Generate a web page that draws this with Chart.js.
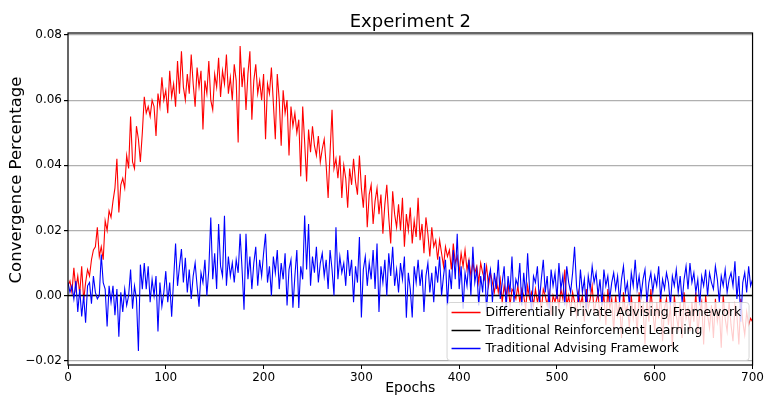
<!DOCTYPE html>
<html>
<head>
<meta charset="utf-8">
<script src="https://cdn.jsdelivr.net/npm/chart.js@4"></script>
<style>
  html, body { margin: 0; padding: 0; background: #fff; }
</style>
</head>
<body>
<canvas id="chart" width="766" height="397"></canvas>
<script>
// x positions: one sample every 2 epochs
const epochs = Array.from({ length: 351 }, (_, i) => i * 2);
const xTicks = [0, 100, 200, 300, 400, 500, 600, 700];
const yTicks = [-0.02, 0, 0.02, 0.04, 0.06, 0.08];

const seriesNames = [
  'Differentially Private Advising Framework',
  'Traditional Reinforcement Learning',
  'Traditional Advising Framework'
];

// Differentially Private Advising Framework (red)
const privateAdvising = [
  0.0030, 0.0045, 0.0010, 0.0085, 0.0020, 0.0060, 0.0005, 0.0090, -0.0015, 0.0040,
  0.0080, 0.0060, 0.0110, 0.0140, 0.0150, 0.0210, 0.0120, 0.0150, 0.0110, 0.0230,
  0.0200, 0.0260, 0.0240, 0.0290, 0.0330, 0.0420, 0.0255, 0.0340, 0.0360, 0.0330,
  0.0430, 0.0390, 0.0550, 0.0410, 0.0390, 0.0520, 0.0480, 0.0410, 0.0500, 0.0610,
  0.0560, 0.0580, 0.0550, 0.0600, 0.0580, 0.0490, 0.0620, 0.0580, 0.0670, 0.0600,
  0.0630, 0.0560, 0.0690, 0.0610, 0.0650, 0.0580, 0.0720, 0.0620, 0.0750, 0.0640,
  0.0600, 0.0680, 0.0620, 0.0740, 0.0650, 0.0580, 0.0700, 0.0640, 0.0690, 0.0510,
  0.0660, 0.0620, 0.0720, 0.0600, 0.0570, 0.0680, 0.0640, 0.0730, 0.0610, 0.0690,
  0.0650, 0.0740, 0.0620, 0.0670, 0.0600, 0.0710, 0.0660, 0.0470, 0.0766, 0.0640,
  0.0700, 0.0570, 0.0680, 0.0750, 0.0540, 0.0660, 0.0710, 0.0620, 0.0660, 0.0600,
  0.0680, 0.0480, 0.0650, 0.0620, 0.0700, 0.0590, 0.0480, 0.0680, 0.0600, 0.0460,
  0.0630, 0.0560, 0.0600, 0.0430, 0.0580, 0.0520, 0.0560, 0.0500, 0.0540, 0.0366,
  0.0580, 0.0470, 0.0350, 0.0510, 0.0440, 0.0520, 0.0460, 0.0430, 0.0490, 0.0410,
  0.0450, 0.0480, 0.0400, 0.0300, 0.0440, 0.0570, 0.0390, 0.0420, 0.0360, 0.0430,
  0.0300, 0.0400, 0.0360, 0.0270, 0.0390, 0.0340, 0.0420, 0.0350, 0.0310, 0.0430,
  0.0330, 0.0270, 0.0370, 0.0210, 0.0310, 0.0340, 0.0220, 0.0290, 0.0330, 0.0250,
  0.0310, 0.0190, 0.0280, 0.0340, 0.0240, 0.0160, 0.0320, 0.0250, 0.0210, 0.0280,
  0.0200, 0.0300, 0.0150, 0.0250, 0.0200, 0.0270, 0.0160, 0.0230, 0.0180, 0.0300,
  0.0170, 0.0220, 0.0130, 0.0240, 0.0190, 0.0120, 0.0210, 0.0150, 0.0170, 0.0110,
  0.0170, 0.0130, 0.0090, 0.0150, 0.0120, 0.0140, 0.0080, 0.0160, 0.0100, 0.0120,
  0.0070, 0.0130, 0.0090, 0.0140, 0.0080, 0.0110, 0.0060, 0.0100, 0.0070, 0.0090,
  0.0040, 0.0100, 0.0070, 0.0050, 0.0090, 0.0030, 0.0070, 0.0040, 0.0010, 0.0050,
  0.0010, 0.0050, -0.0020, 0.0030, 0.0000, 0.0040, -0.0030, 0.0020, 0.0010, -0.0010,
  0.0030, -0.0020, 0.0020, 0.0000, -0.0040, 0.0030, -0.0010, 0.0010, -0.0030, 0.0020,
  -0.0020, 0.0010, -0.0050, 0.0020, 0.0000, -0.0030, 0.0010, -0.0060, 0.0000, -0.0020,
  0.0010, -0.0040, 0.0020, -0.0010, 0.0080, -0.0030, 0.0000, -0.0050, 0.0010, -0.0020,
  -0.0060, 0.0010, -0.0030, 0.0000, -0.0080, 0.0020, -0.0040, -0.0010, 0.0030, -0.0050,
  -0.0020, 0.0010, -0.0070, -0.0030, 0.0000, -0.0090, 0.0020, -0.0040, -0.0010, -0.0110,
  0.0000, -0.0060, -0.0020, -0.0130, 0.0010, -0.0050, -0.0030, -0.0100, 0.0000, -0.0070,
  -0.0020, -0.0120, 0.0010, -0.0060, -0.0030, -0.0150, -0.0010, -0.0080, 0.0020, -0.0050,
  -0.0110, -0.0020, -0.0070, 0.0010, -0.0140, -0.0040, -0.0010, -0.0090, -0.0030, -0.0160,
  0.0000, -0.0060, -0.0100, -0.0020, -0.0130, 0.0010, -0.0070, -0.0040, -0.0110, -0.0020,
  -0.0080, 0.0010, -0.0120, -0.0050, -0.0020, -0.0150, 0.0000, -0.0060, -0.0100, -0.0030,
  -0.0130, -0.0010, -0.0080, -0.0040, -0.0160, 0.0000, -0.0070, -0.0110, -0.0020, -0.0090,
  -0.0140, -0.0030, -0.0060, -0.0150, -0.0010, -0.0080, -0.0120, -0.0050, -0.0090, -0.0070,
  -0.0080
];

// Traditional Reinforcement Learning (black, flat at zero)
const reinforcementEpochs = [0, 700];
const reinforcement = [0, 0];

// Traditional Advising Framework (blue)
const traditionalAdvising = [
  0.0040, 0.0010, 0.0030, -0.0010, 0.0045, -0.0050, 0.0020, -0.0064, 0.0000, -0.0083,
  0.0030, 0.0040, -0.0025, 0.0060, 0.0010, -0.0010, 0.0000, 0.0126, 0.0040, 0.0020,
  -0.0095, 0.0030, -0.0020, 0.0030, -0.0060, 0.0020, -0.0126, 0.0010, -0.0050, 0.0020,
  -0.0030, 0.0000, 0.0080, -0.0040, 0.0030, -0.0010, -0.0170, 0.0095, 0.0020, 0.0100,
  0.0020, 0.0090, -0.0020, 0.0050, 0.0000, 0.0060, -0.0110, 0.0040, -0.0033, 0.0010,
  0.0075, -0.0020, 0.0040, -0.0065, 0.0050, 0.0160, 0.0030, 0.0090, 0.0143, 0.0040,
  0.0116, 0.0010, 0.0080, -0.0010, 0.0060, 0.0100, 0.0030, -0.0034, 0.0070, 0.0040,
  0.0110, 0.0000, 0.0080, 0.0240, 0.0050, 0.0130, 0.0020, 0.0220, 0.0090, 0.0060,
  0.0245, 0.0030, 0.0120, 0.0060, 0.0100, 0.0040, 0.0110, 0.0070, 0.0190, 0.0080,
  -0.0043, 0.0190, 0.0050, 0.0120, 0.0020, 0.0100, 0.0150, 0.0030, 0.0110, 0.0060,
  0.0130, 0.0190, 0.0040, 0.0090, 0.0000, 0.0120, 0.0070, 0.0140, 0.0020, 0.0100,
  0.0050, 0.0130, -0.0030, 0.0080, 0.0110, -0.0037, 0.0060, 0.0140, -0.0038, 0.0090,
  0.0050, 0.0246, 0.0080, 0.0220, 0.0030, 0.0120, 0.0070, 0.0150, 0.0040, 0.0100,
  0.0130, 0.0060, 0.0110, 0.0020, 0.0140, 0.0080, 0.0000, 0.0210, 0.0050, 0.0120,
  0.0070, 0.0100, 0.0030, 0.0140, 0.0060, 0.0110, -0.0020, 0.0090, 0.0040, 0.0180,
  -0.0067, 0.0080, 0.0120, 0.0030, 0.0100, 0.0050, 0.0140, 0.0020, 0.0160, -0.0050,
  0.0090, 0.0040, 0.0110, 0.0000, 0.0130, 0.0060, 0.0150, 0.0030, 0.0080, 0.0010,
  0.0100, 0.0050, 0.0120, -0.0068, 0.0070, 0.0020, -0.0067, 0.0090, 0.0040, 0.0110,
  0.0030, 0.0080, -0.0050, 0.0060, 0.0100, 0.0010, 0.0070, -0.0020, 0.0090, 0.0040,
  0.0120, 0.0000, 0.0060, 0.0110, -0.0030, 0.0080, 0.0020, 0.0140, 0.0050, 0.0190,
  0.0020, 0.0090, -0.0040, 0.0070, 0.0030, 0.0110, 0.0000, 0.0150, 0.0040, 0.0080,
  -0.0030, 0.0060, 0.0010, 0.0100, -0.0050, 0.0050, 0.0080, -0.0020, 0.0070, 0.0020,
  0.0110, -0.0010, 0.0040, 0.0090, -0.0040, 0.0060, 0.0010, 0.0120, -0.0020, 0.0050,
  0.0030, 0.0100, -0.0030, 0.0070, 0.0000, 0.0130, 0.0020, -0.0050, 0.0060, 0.0040,
  0.0090, -0.0020, 0.0050, 0.0110, 0.0010, 0.0060, -0.0040, 0.0080, 0.0030, 0.0070,
  -0.0010, 0.0100, 0.0020, 0.0060, -0.0030, 0.0090, 0.0040, 0.0010, 0.0070, 0.0150,
  0.0030, -0.0020, 0.0080, 0.0010, 0.0050, -0.0040, 0.0060, 0.0020, 0.0090, 0.0040,
  0.0070, 0.0000, 0.0050, -0.0030, 0.0080, 0.0030, 0.0060, -0.0010, 0.0040, 0.0070,
  0.0020, 0.0060, -0.0020, 0.0050, 0.0090, 0.0010, 0.0040, -0.0030, 0.0070, 0.0030,
  0.0110, 0.0020, 0.0060, 0.0000, 0.0050, 0.0080, -0.0020, 0.0040, 0.0070, 0.0010,
  0.0060, 0.0030, 0.0090, -0.0010, 0.0050, 0.0020, 0.0070, 0.0040, -0.0030, 0.0060,
  0.0030, 0.0080, 0.0010, 0.0060, -0.0020, 0.0050, 0.0090, 0.0020, 0.0100, 0.0040,
  0.0070, 0.0010, 0.0050, -0.0030, 0.0060, 0.0030, 0.0080, 0.0000, 0.0070, 0.0040,
  0.0020, 0.0090, 0.0050, -0.0020, 0.0060, 0.0030, 0.0080, 0.0010, 0.0050, 0.0070,
  0.0030, 0.0105, -0.0010, 0.0060, -0.0080, 0.0040, 0.0070, 0.0010, 0.0090, 0.0030,
  0.0050
];

const seriesColors = ['#ff0000', '#000000', '#0000ff'];
const FONT = "'DejaVu Sans', sans-serif";

const toPoints = (xs, ys) => ys.map((y, i) => ({ x: xs[i], y: y }));

// frame, title, y label and an in-axes legend like matplotlib's
const mplDecor = {
  id: 'mplDecor',
  afterDatasetsDraw(chart) {
    const { ctx, chartArea: a } = chart;
    ctx.save();

    // legend box (semi transparent, drawn over the lines)
    const bx = a.right - 306, by = a.bottom - 63, bw = 302, bh = 58;
    ctx.beginPath();
    ctx.roundRect(bx + 0.5, by + 0.5, bw, bh, 3);
    ctx.fillStyle = 'rgba(255,255,255,0.8)';
    ctx.fill();
    ctx.strokeStyle = 'rgba(204,204,204,0.8)';
    ctx.lineWidth = 1;
    ctx.stroke();

    ctx.font = '12.4px ' + FONT;
    ctx.textBaseline = 'middle';
    ctx.textAlign = 'left';
    seriesNames.forEach((name, i) => {
      const ly = by + 10.5 + i * 18;
      ctx.beginPath();
      ctx.moveTo(bx + 5, ly);
      ctx.lineTo(bx + 34, ly);
      ctx.strokeStyle = seriesColors[i];
      ctx.lineWidth = 1.5;
      ctx.stroke();
      ctx.fillStyle = '#000';
      ctx.fillText(name, bx + 39, ly);
    });

    // axes frame
    ctx.strokeStyle = '#000';
    ctx.lineWidth = 1.2;
    ctx.strokeRect(a.left, a.top, a.right - a.left, a.bottom - a.top);

    // title
    ctx.font = '18px ' + FONT;
    ctx.textAlign = 'center';
    ctx.textBaseline = 'alphabetic';
    ctx.fillStyle = '#000';
    ctx.fillText('Experiment 2', (a.left + a.right) / 2, 27);

    // y axis label
    ctx.translate(17, 180);
    ctx.rotate(-Math.PI / 2);
    ctx.font = '16.5px ' + FONT;
    ctx.textBaseline = 'middle';
    ctx.fillText('Convergence Percentage', 0, 0);
    ctx.restore();
  }
};

new Chart(document.getElementById('chart'), {
  type: 'line',
  data: {
    datasets: [
      {
        label: seriesNames[0],
        data: toPoints(epochs, privateAdvising),
        borderColor: seriesColors[0],
        borderWidth: 1.1,
        order: 3
      },
      {
        label: seriesNames[1],
        data: toPoints(reinforcementEpochs, reinforcement),
        borderColor: seriesColors[1],
        borderWidth: 1.5,
        order: 2
      },
      {
        label: seriesNames[2],
        data: toPoints(epochs, traditionalAdvising),
        borderColor: seriesColors[2],
        borderWidth: 1.1,
        order: 1
      }
    ]
  },
  options: {
    responsive: false,
    devicePixelRatio: 1,
    animation: false,
    events: [],
    elements: { point: { radius: 0 }, line: { tension: 0 } },
    layout: { padding: { left: 0, right: 11, top: 33, bottom: 0 } },
    plugins: {
      legend: { display: false },
      tooltip: { enabled: false },
      title: { display: false }
    },
    scales: {
      x: {
        type: 'linear',
        min: 0,
        max: 700,
        afterBuildTicks: s => { s.ticks = xTicks.map(v => ({ value: v })); },
        afterFit: s => { s.height = 32; },
        border: { display: false },
        grid: { drawOnChartArea: false, drawTicks: true, tickLength: 4, color: '#000', lineWidth: 1 },
        ticks: { color: '#000', font: { family: FONT, size: 12 }, padding: 2, maxRotation: 0, callback: v => String(v) },
        title: { display: true, text: 'Epochs', color: '#000', font: { family: FONT, size: 14 }, padding: { top: 0, bottom: 0 } }
      },
      y: {
        min: -0.0213,
        max: 0.0806,
        afterBuildTicks: s => { s.ticks = yTicks.map(v => ({ value: v })); },
        afterFit: s => { s.width = 68; },
        border: { display: false },
        grid: { color: '#b0b0b0', lineWidth: 1.2, tickColor: '#000', tickLength: 4, drawTicks: true },
        ticks: {
          color: '#000',
          font: { family: FONT, size: 12 },
          padding: 2,
          callback: v => (v < 0 ? '\u2212' : '') + Math.abs(v).toFixed(2)
        }
      }
    }
  },
  plugins: [mplDecor]
});
</script>
</body>
</html>
